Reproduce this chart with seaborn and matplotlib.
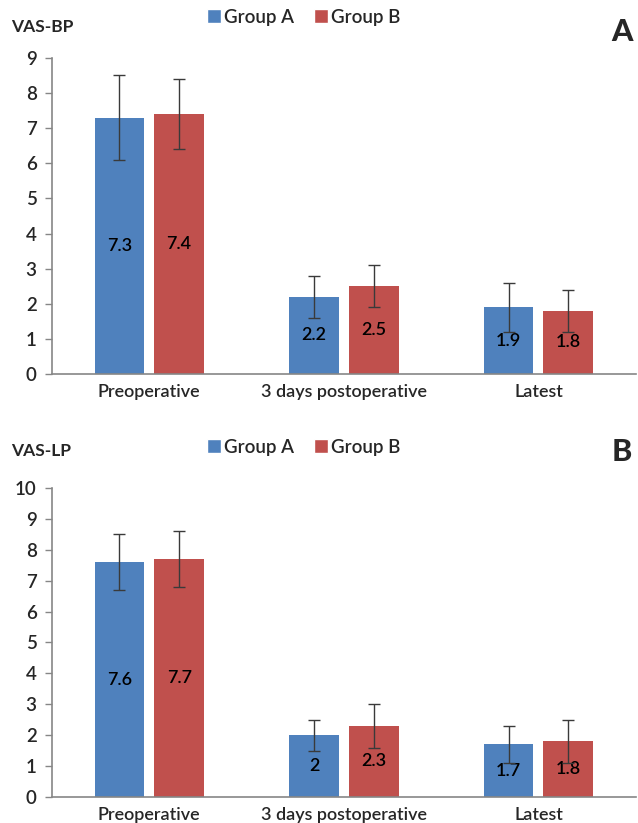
import matplotlib
matplotlib.use("Agg")
import matplotlib.pyplot as plt
import seaborn as sns
import pandas as pd
from matplotlib.lines import Line2D

categories = ["Preoperative", "3 days postoperative", "Latest"]
groups = ["Group A", "Group B"]

bp_a = [7.3, 2.2, 1.9]
bp_b = [7.4, 2.5, 1.8]
bp_err_a = [1.2, 0.6, 0.7]
bp_err_b = [1.0, 0.6, 0.6]

lp_a = [7.6, 2.0, 1.7]
lp_b = [7.7, 2.3, 1.8]
lp_err_a = [0.9, 0.5, 0.6]
lp_err_b = [0.9, 0.7, 0.7]

colors = ["#4F81BD", "#C0504D"]

sns.set_style("white")
plt.rcParams['font.family'] = ['Lato', 'DejaVu Sans']
plt.rcParams['font.weight'] = 'semibold'

fig = plt.figure(figsize=(6.38, 8.23), dpi=100)
ax1 = fig.add_axes([0.0815, 0.5456, 0.915, 0.384])
ax2 = fig.add_axes([0.0815, 0.0316, 0.915, 0.3755])


def draw(ax, va, vb, ea, eb, ymax, title, letter, leg_y, title_y, letter_y):
    df = pd.DataFrame({
        "cat": categories * 2,
        "grp": [groups[0]] * 3 + [groups[1]] * 3,
        "val": va + vb,
    })
    sns.barplot(data=df, x="cat", y="val", hue="grp", order=categories,
                hue_order=groups, palette=colors, errorbar=None,
                width=0.614, gap=0.167, linewidth=0, ax=ax, legend=False,
                saturation=1)
    for cont, e_list, v_list in zip(ax.containers, [ea, eb], [va, vb]):
        xs = [p.get_x() + p.get_width() / 2 for p in cont.patches]
        ax.errorbar(xs, v_list, yerr=e_list, fmt="none", ecolor="#3a3a3a",
                    elinewidth=1, capsize=4, capthick=1, zorder=5)
        ax.bar_label(cont, labels=[f"{v:g}" for v in v_list],
                     label_type="center", fontsize=13, color="black",
                     fontweight="semibold")
    ax.set_xlim(-0.5, 2.5)
    ax.set_ylim(0, ymax)
    ax.set_yticks(range(0, ymax + 1))
    ax.set_xlabel("")
    ax.set_ylabel("")
    for s in ["top", "right"]:
        ax.spines[s].set_visible(False)
    for s in ["left", "bottom"]:
        ax.spines[s].set_color("#868686")
        ax.spines[s].set_linewidth(1.2)
    ax.tick_params(axis="y", which="both", left=True, length=5, width=1,
                   color="#868686", labelsize=13.5, pad=6)
    ax.tick_params(axis="x", bottom=False, labelsize=13, pad=4)
    handles = [Line2D([0], [0], marker="s", color="w", markerfacecolor=c,
                      markersize=10, linewidth=0) for c in colors]
    fig.legend(handles, groups, loc="center", bbox_to_anchor=(0.475, leg_y),
               ncol=2, frameon=False, fontsize=13.5, handletextpad=0.1,
               columnspacing=1.0, handlelength=0.9)
    fig.text(0.018, title_y, title, fontsize=12.5, fontweight="bold",
             va="center", ha="left")
    fig.text(0.975, letter_y, letter, fontsize=22, fontweight="black",
             va="center", ha="center")


draw(ax1, bp_a, bp_b, bp_err_a, bp_err_b, 9, "VAS-BP", "A",
     1 - 17 / 823, 1 - 27 / 823, 1 - 32 / 823)
draw(ax2, lp_a, lp_b, lp_err_a, lp_err_b, 10, "VAS-LP", "B",
     1 - 447 / 823, 1 - 451 / 823, 1 - 452 / 823)

fig.savefig("out.png", dpi=100)
